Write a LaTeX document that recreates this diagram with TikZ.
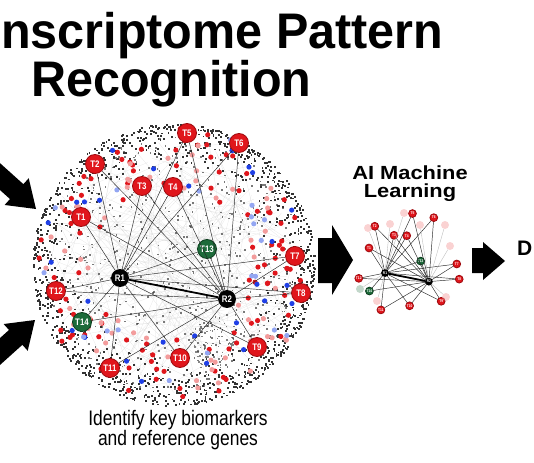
\documentclass[tikz,border=0pt]{standalone}
\usepackage{fontspec}
\setmainfont{Liberation Sans}
\newfontfamily\narrowfont[FakeStretch=0.83]{Liberation Sans}
\newfontfamily\titlefont[FakeStretch=0.97]{Liberation Sans}
\newfontfamily\wideboldfont[FakeStretch=1.15]{Liberation Sans}

\definecolor{genered}{HTML}{E0161C}
\definecolor{generedline}{HTML}{9E0A0E}
\definecolor{genegreen}{HTML}{1D6B3A}
\definecolor{genegreenline}{HTML}{0E3F20}
\definecolor{genepink}{HTML}{F39C9C}
\definecolor{geneblue}{HTML}{1F3FE6}
\definecolor{genelblue}{HTML}{93A6F2}

\tikzset{
  gene/.style={circle, draw=generedline, fill=genered, line width=0.8pt,
    minimum size=19pt, inner sep=0pt, text=white,
    font=\narrowfont\bfseries\fontsize{9.5}{9.5}\selectfont},
  target/.style={gene},
  keygene/.style={gene, fill=genegreen, draw=genegreenline},
  refgene/.style={gene, fill=black, draw=black, minimum size=17pt},
  link/.style={line width=0.45pt, black!85},
  reflink/.style={line width=1.8pt, black},
  ghost/.style={circle, inner sep=0pt, minimum size=8pt, fill=genepink, opacity=0.45},
  ghostlink/.style={line width=0.4pt, black!25},
  mesh/.style={gray!40, line width=0.25pt, opacity=0.5},
  speck/.style={black!80},
  blockarrow/.style={fill=black},
  title/.style={inner sep=0pt, align=left,
    font=\titlefont\bfseries\fontsize{50}{45}\selectfont},
  aititle/.style={inner sep=0pt, align=center,
    font=\wideboldfont\bfseries\fontsize{19}{18}\selectfont},
  caption/.style={inner sep=0pt, align=center,
    font=\narrowfont\fontsize{21}{17}\selectfont},
}

% T nodes: number / x / y / kind
\def\genelist{1/81/217/target, 2/95/164/target, 3/142/186/target, 4/173/187/target,
  5/187/133/target, 6/239/143/target, 7/295/256/target, 8/301/293/target,
  9/257/347/target, 10/180/358/target, 11/110/368/target, 12/56/291/target,
  13/207/249/keygene, 14/82/322/keygene}

\newcommand\genenet{%
  \foreach \n/\x/\y/\kind in \genelist {\node[\kind] (T\n) at (\x,\y) {T\n};}
  \node[refgene] (R1) at (120,278) {R1};
  \node[refgene] (R2) at (227,299) {R2};
  \foreach \n in {1,...,14} {\draw[link] (R1) -- (T\n); \draw[link] (R2) -- (T\n);}
  \draw[reflink] (R1) -- (R2);
}

\begin{document}
\begin{tikzpicture}[x=1pt,y=-1pt]
  \useasboundingbox (0,0) rectangle (534,462);
  \clip (0,0) rectangle (534,462);

  % title
  \node[title, anchor=north west] (title) at (1,12)
    {nscriptome Pattern\\\hspace*{30pt}Recognition};

  % gene cloud
  \coordinate (cloud) at (173,264);
  \pgfmathsetseed{31415}
  \foreach \k in {1,...,200}{
    \pgfmathsetmacro\aa{rnd*360}\pgfmathsetmacro\ra{130*sqrt(rnd)}
    \pgfmathsetmacro\ab{rnd*360}\pgfmathsetmacro\rb{130*sqrt(rnd)}
    \draw[mesh] ([shift={(\aa:\ra)}]cloud) -- ([shift={(\ab:\rb)}]cloud);
  }
  \foreach \k in {1,...,1300}{
    \pgfmathsetmacro\a{rnd*360}\pgfmathsetmacro\r{141-50*rnd*rnd}
    \fill[speck] ([shift={(\a:\r)}]cloud) rectangle ++(1.9,1.9);
  }
  \foreach \k in {1,...,650}{
    \pgfmathsetmacro\a{rnd*360}\pgfmathsetmacro\r{128*sqrt(rnd)}
    \fill[speck, opacity=0.65] ([shift={(\a:\r)}]cloud) rectangle ++(1.7,1.7);
  }
  \foreach \k in {1,...,90}{
    \pgfmathsetmacro\a{rnd*360}\pgfmathsetmacro\r{24*sqrt(rnd)}
    \fill[speck, opacity=0.6] ([shift={(\a:\r)}]212,343) rectangle ++(1.6,1.6);
  }
  \foreach \c/\m in {genered/105, genepink/60, geneblue/28, genelblue/20}{
    \foreach \k in {1,...,\m}{
      \pgfmathsetmacro\a{rnd*360}\pgfmathsetmacro\r{137*sqrt(0.3+0.7*rnd)}
      \fill[\c] ([shift={(\a:\r)}]cloud) circle (2.6);
    }
  }

  % big network
  \genenet

  % small network
  \begin{scope}[shift={(385,273)}, scale=0.41, shift={(-120,-278)}, transform shape,
      name prefix=ai-]
    \genenet
  \end{scope}
  \foreach \x/\y/\r in {404/213/1, 445/225/2, 390/224/1, 368/228/1, 420/225/2,
      450/246/2, 377/301/1, 446/297/2}{
    \node[ghost] (g\x) at (\x,\y) {};
    \draw[ghostlink] (g\x) -- (ai-R\r);
  }
  \node[ghost, fill=genegreen!60] (g360) at (360,289) {};
  \draw[ghostlink] (g360) -- (ai-R1);

  % arrows
  \fill[blockarrow, shift={(36,209)}, rotate=-42]
    (0,0) -- (-26,-18) -- (-26,-10) -- (-60,-10) -- (-60,10) -- (-26,10) -- (-26,18) -- cycle;
  \fill[blockarrow, shift={(35,320)}, rotate=42]
    (0,0) -- (-26,-18) -- (-26,-10) -- (-60,-10) -- (-60,10) -- (-26,10) -- (-26,18) -- cycle;
  \fill[blockarrow] (318,238) -- (332,238) -- (332,225) -- (353,260) -- (332,295)
    -- (332,283) -- (318,283) -- cycle;
  \fill[blockarrow] (472,248) -- (483,248) -- (483,242) -- (505,261) -- (483,280)
    -- (483,273) -- (472,273) -- cycle;

  % labels
  \node[aititle, anchor=north] (ai) at (410,166) {AI Machine\\Learning};
  \node[inner sep=0pt, anchor=base west, font=\bfseries\fontsize{21}{21}\selectfont] (dx) at (517,255) {D};
  \node[caption, anchor=north] (cap) at (178,410) {Identify key biomarkers\\and reference genes};
\end{tikzpicture}
\end{document}
